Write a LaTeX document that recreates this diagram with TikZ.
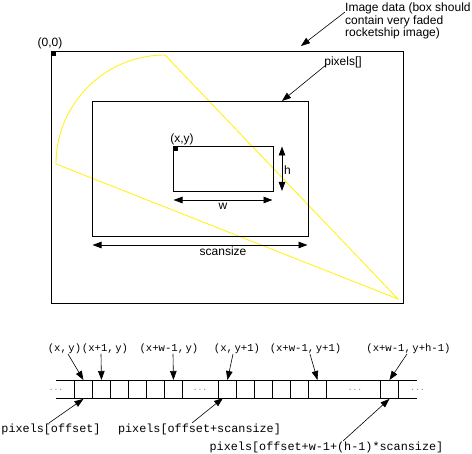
\documentclass[tikz,border=0pt]{standalone}
\usepackage{fontspec}
\setmainfont{Liberation Sans}
\setmonofont{Liberation Mono}
\usetikzlibrary{arrows.meta}
\newcommand{\cs}{,\kern1.5pt }
\begin{document}
\begin{tikzpicture}[x=1pt,y=-1pt,
  box/.style={draw,line width=1pt,inner sep=0pt,anchor=north west},
  sq/.style={fill,inner sep=0pt,minimum size=4.5pt,anchor=north west},
  lbl/.style={font=\fontsize{12}{12.7}\selectfont,inner sep=0pt},
  mtop/.style={font=\ttfamily\fontsize{10.6}{12}\selectfont,inner sep=0pt},
  mbot/.style={font=\ttfamily\fontsize{11.8}{13}\selectfont,inner sep=0pt},
  ptr/.style={line width=0.6pt,-{Triangle[length=9pt,width=6.5pt]}},
  dimarr/.style={line width=0.8pt,{Triangle[length=9pt,width=6.5pt]}-{Triangle[length=9pt,width=6.5pt]}},
  cell/.style={draw,line width=0.9pt,minimum width=18pt,minimum height=18pt,inner sep=0pt,anchor=north west},
  dotsl/.style={text=gray,font=\ttfamily\fontsize{8}{8}\selectfont,inner sep=0pt,anchor=base}
]
\useasboundingbox (0,0) rectangle (472,454);

% yellow rocketship sketch
\draw[yellow,line width=0.8pt] (56,164) arc[start angle=180,end angle=270,radius=109] -- (398,299) -- cycle;

% boxes
\node[box,minimum width=352pt,minimum height=252pt] (img) at (51,51) {};
\node[box,minimum width=216pt,minimum height=135pt] (pix) at (92,101) {};
\node[box,minimum width=100pt,minimum height=45pt] (sub) at (173,146) {};
\node[sq] (o) at (51,51) {};
\node[sq] (xy) at (173,146) {};

% labels top part
\node[lbl] (l00) at (50,43.5) {(0,0)};
\node[lbl] (lxy) at (182,139) {(x,y)};
\node[lbl,anchor=north west,align=left] (limg) at (345,2.5) {Image data (box should\\contain very faded\\rocketship image)};
\node[lbl] (lpix) at (343,62) {pixels[]};
\node[lbl] (lh) at (287.5,170) {h};
\node[lbl] (lw) at (223,206) {w};
\node[lbl] (lscan) at (223,251) {scansize};

\coordinate (imgS) at (345,12);
\coordinate (imgT) at (301,46);
\coordinate (pixS) at (326,65);
\coordinate (pixT) at (282,101);
\draw[ptr] (imgS) -- (imgT);
\draw[ptr] (pixS) -- (pixT);

\coordinate (hA) at (282,146.5);
\coordinate (hB) at (282,191);
\coordinate (wA) at (173.5,200);
\coordinate (wB) at (272.5,200);
\coordinate (sA) at (92.5,245);
\coordinate (sB) at (307.5,245);
\draw[dimarr] (hA) -- (hB);
\draw[dimarr] (wA) -- (wB);
\draw[dimarr] (sA) -- (sB);

% strip
\coordinate (tL) at (56,380);
\coordinate (tR) at (417,380);
\coordinate (bL) at (56,398);
\coordinate (bR) at (417,398);
\foreach \x [count=\i] in {74,92,110,128,146,164,218,236,254,272,290,308,380}
  \node[cell] (c\i) at (\x,380) {};
\draw[line width=0.9pt] (tL) -- (tR);
\draw[line width=0.9pt] (bL) -- (bR);

\node[dotsl] (d1) at (56,391) {...};
\node[dotsl] (d2) at (200,391) {...};
\node[dotsl] (d3) at (355,391) {...};
\node[dotsl] (d4) at (417.5,391) {...};

% top labels
\node[mtop] (t1) at (64.5,349) {(x\cs y)};
\node[mtop] (t2) at (105,349) {(x+1\cs y)};
\node[mtop] (t3) at (169,349) {(x+w-1\cs y)};
\node[mtop] (t4) at (237,349) {(x\cs y+1)};
\node[mtop] (t5) at (305.5,349) {(x+w-1\cs y+1)};
\node[mtop] (t6) at (408.5,349) {(x+w-1\cs y+h-1)};

\coordinate (s1) at (68,354);
\coordinate (s2) at (101,354);
\coordinate (s3) at (173,354);
\coordinate (s4) at (233,354);
\coordinate (s5) at (310,354);
\coordinate (s6) at (407,354);
\draw[ptr] (s1) -- (c1.north);
\draw[ptr] (s2) -- (c2.north);
\draw[ptr] (s3) -- (c6.north);
\draw[ptr] (s4) -- (c7.north);
\draw[ptr] (s5) -- (c12.north);
\draw[ptr] (s6) -- (c13.north);

% bottom labels
\node[mbot] (p1) at (51,429) {pixels[offset]};
\node[mbot] (p2) at (199.5,429) {pixels[offset+scansize]};
\node[mbot] (p3) at (326.5,447) {pixels[offset+w-1+(h-1)*scansize]};

\coordinate (u1) at (49,423);
\coordinate (u2) at (192,423);
\coordinate (u3) at (343,441);
\coordinate (v2) at (223,398);
\draw[ptr] (u1) -- (c1.south);
\draw[ptr] (u2) -- (v2);
\draw[ptr] (u3) -- (c13.south);
\end{tikzpicture}
\end{document}
